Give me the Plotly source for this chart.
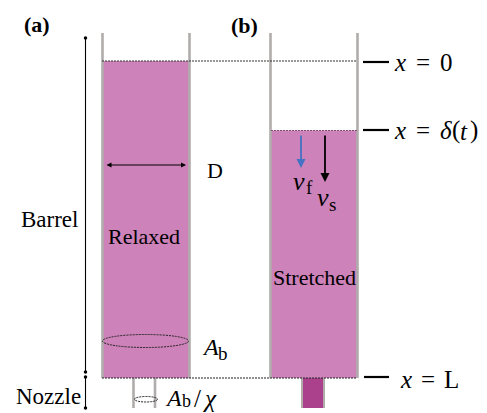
import plotly.graph_objects as go

W, H = 487, 413
SERIF = "Liberation Serif"
PINK = "#cd82b9"
DARK_PINK = "#ab418d"
GREY = "#b0acac"

# Schematic geometry (pixels)
barrel_a = [102.5, 189.5]
barrel_b = [270.5, 357.5]
barrel_top = 33
barrel_bottom = 378
level_a = 61
level_b = 130.5
nozzle_a = [133.5, 155]
nozzle_b = [303, 323]
nozzle_bottom = 408

labels = [
    ("(a)", 36.5, 24, 22, "bold", "normal"),
    ("(b)", 244, 25, 22, "bold", "normal"),
    ("Barrel", 49, 219, 23, "normal", "normal"),
    ("Nozzle", 48.5, 396, 23, "normal", "normal"),
    ("Relaxed", 144, 236, 22, "normal", "normal"),
    ("Stretched", 314, 277, 22, "normal", "normal"),
    ("D", 215, 170, 22, "normal", "normal"),
    # x = 0
    ("x", 400, 62, 25, "normal", "italic"),
    ("=", 423, 62, 25, "normal", "normal"),
    ("0", 446, 62, 25, "normal", "normal"),
    # x = delta(t)
    ("x", 400, 130, 25, "normal", "italic"),
    ("=", 423, 130, 25, "normal", "normal"),
    ("δ", 446, 130, 25, "normal", "italic"),
    ("(", 456, 130, 25, "normal", "normal"),
    ("t", 464, 131, 25, "normal", "italic"),
    (")", 474, 130, 25, "normal", "normal"),
    # x = L
    ("x", 406, 379, 25, "normal", "italic"),
    ("=", 428, 379, 25, "normal", "normal"),
    ("L", 451, 379, 25, "normal", "normal"),
    # A_b
    ("A", 210, 347, 24, "normal", "italic"),
    ("b", 223, 353, 19, "normal", "normal"),
    # v_f, v_s
    ("v", 299, 181, 26, "normal", "italic"),
    ("f", 309, 187, 19, "normal", "normal"),
    ("v", 323, 197, 26, "normal", "italic"),
    ("s", 332, 204, 19, "normal", "normal"),
    # A_b / chi
    ("A", 173, 398, 24, "normal", "italic"),
    ("b", 186, 401, 18, "normal", "normal"),
    ("/", 197, 398, 25, "normal", "normal"),
    ("χ", 210, 398, 25, "normal", "italic"),
]


def line(xs, ys, color="black", width=1.0, dash="solid"):
    return go.Scatter(x=xs, y=ys, mode="lines", hoverinfo="skip", showlegend=False,
                      line=dict(color=color, width=width, dash=dash))


fig = go.Figure()

# liquid fills
for xs, top, col in [
    (barrel_a, level_a, PINK),
    (barrel_b, level_b, PINK),
    (nozzle_b, barrel_bottom, DARK_PINK),
]:
    bottom = nozzle_bottom if col == DARK_PINK else barrel_bottom
    fig.add_trace(go.Scatter(x=[xs[0], xs[1], xs[1], xs[0], xs[0]],
                             y=[top, top, bottom, bottom, top],
                             fill="toself", fillcolor=col, mode="none",
                             hoverinfo="skip", showlegend=False))

# walls
for x0 in barrel_a + barrel_b:
    fig.add_trace(line([x0, x0], [barrel_top, barrel_bottom], GREY, 2.6))
for x0 in nozzle_a:
    fig.add_trace(line([x0, x0], [barrel_bottom, nozzle_bottom], GREY, 2.6))
for x0 in [nozzle_b[0] - 1, nozzle_b[1] + 1]:
    fig.add_trace(line([x0, x0], [barrel_bottom, nozzle_bottom], GREY, 2))

# dotted levels
fig.add_trace(line([102, 357], [61, 61], "#333333", 1, "2px,1px"))
fig.add_trace(line([271, 357], [130.5, 130.5], "#7d4a72", 1.2, "2px,1px"))
fig.add_trace(line([102, 357], [378, 378], "#222222", 1, "2px,1px"))

# position ticks
for y0, x0 in [(62, 363), (130, 363), (377, 364)]:
    fig.add_trace(line([x0, 389], [y0, y0], "black", 2.2))

# dimension lines
fig.add_trace(line([85.5, 85.5], [38, 372], "black", 1.1))
fig.add_trace(line([85.5, 85.5], [377, 408], "black", 1.1))
fig.add_trace(go.Scatter(x=[85.5] * 4, y=[38, 372, 377, 408], mode="markers", hoverinfo="skip",
                         showlegend=False, marker=dict(color="black", size=3.5)))

shapes = [
    dict(type="circle", xref="x", yref="y", x0=102.5, x1=188.5, y0=334.5, y1=347.5,
         line=dict(color="#222222", width=1, dash="2px,1px")),
    dict(type="circle", xref="x", yref="y", x0=134.5, x1=157.5, y0=396.5, y1=402,
         line=dict(color="#222222", width=1, dash="2px,1px")),
]

annotations = []
for text, x, y, size, weight, style in labels:
    annotations.append(dict(x=x, y=y, text=text, showarrow=False, xref="x", yref="y",
                            xanchor="center", yanchor="middle",
                            font=dict(family=SERIF, size=size, color="black", weight=weight, style=style)))
# arrows
for (x0, y0, x1, y1, col, wd, side) in [
    (105, 165, 186, 165, "black", 1, "end+start"),
    (301, 134, 301, 168, "#4472c4", 1.8, "end"),
    (325, 134, 325, 182, "black", 1.8, "end"),
]:
    annotations.append(dict(x=x1, y=y1, ax=x0, ay=y0, xref="x", yref="y", axref="x", ayref="y",
                            text="", showarrow=True, arrowhead=2, startarrowhead=2, arrowside=side,
                            arrowsize=1, arrowwidth=wd, arrowcolor=col))

fig.update_layout(
    width=W, height=H, margin=dict(l=0, r=0, t=0, b=0),
    paper_bgcolor="white", plot_bgcolor="white",
    xaxis=dict(range=[0, W], visible=False, fixedrange=True),
    yaxis=dict(range=[H, 0], visible=False, fixedrange=True),
    shapes=shapes, annotations=annotations, showlegend=False,
)
fig.write_html("out.html", config=dict(displayModeBar=False),
               post_script="document.body.style.margin='0';document.body.style.overflow='hidden';")
